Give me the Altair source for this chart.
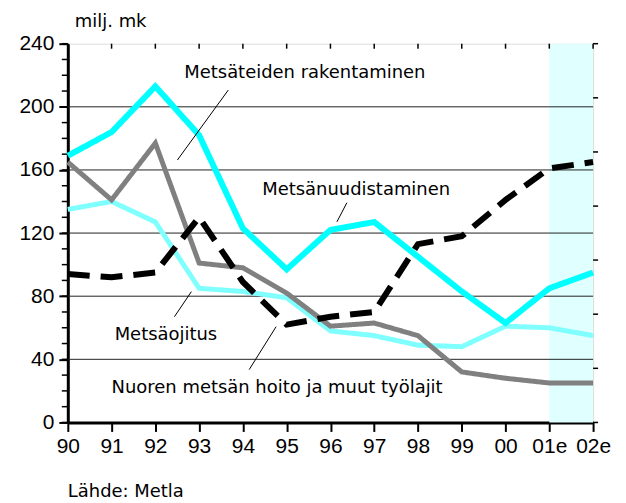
import json
import altair as alt
import pandas as pd

# ---- data ----
years = ["90", "91", "92", "93", "94", "95", "96", "97", "98", "99", "00", "01e", "02e"]
uudistaminen = [169, 184, 213, 182, 123, 97, 122, 127, 105, 83, 63, 85, 95]   # Metsänuudistaminen
tiet = [165, 141, 177, 101, 98, 82, 61, 63, 55, 32, 28, 25, 25]              # Metsäteiden rakentaminen
ojitus = [135, 140, 127, 85, 83, 79, 58, 55, 49, 48, 61, 60, 55]             # Metsäojitus
nuoren = [94, 92, 95, 130, 89, 62, 67, 70, 113, 118, 141, 161, 165]          # Nuoren metsän hoito ...

series_names = ["Metsäojitus", "Metsäteiden rakentaminen", "Metsänuudistaminen",
                "Nuoren metsän hoito ja muut työlajit"]
series_values = [ojitus, tiet, uudistaminen, nuoren]
series_colors = ["#80FFFF", "#808080", "#00FFFF", "#000000"]
series_widths = [5, 5, 6, 6]
series_dash = [[1, 0], [1, 0], [1, 0], [22, 11]]

grid_values = [40, 80, 120, 160, 200]
major_ticks = [0, 40, 80, 120, 160, 200, 240]
minor_ticks = list(range(0, 241, 10))
right_ticks = [0, 34.3, 68.6, 102.9, 137.1, 171.4, 205.7, 240]
forecast_start, forecast_end = 11, 12

label_texts = ["milj. mk", "Metsäteiden rakentaminen", "Metsänuudistaminen", "Metsäojitus",
               "Nuoren metsän hoito ja muut työlajit", "Lähde: Metla"]
label_x = [0.16, 2.66, 4.44, 1.07, 1.0, 0.0]
label_y = [254, 221.4, 147.4, 55.7, 22.1, -44.3]

pointer_x = [3.666, 6.375, 2.823, 4.759]
pointer_y = [210.6, 139.2, 82.9, 60.7]
pointer_x2 = [2.504, 6.148, 2.436, 4.144]
pointer_y2 = [166.3, 127.1, 67.0, 33.5]

# ---- chart ----
W, H = 527, 380
FONT = "Liberation Sans"
TFONT = "DejaVu Sans"
xscale = alt.Scale(domain=[0, 12], nice=False, zero=False)
yscale = alt.Scale(domain=[0, 240], nice=False, zero=False)
label_expr = json.dumps(years) + "[datum.value]"

shade_df = pd.DataFrame({"x0": [forecast_start], "x1": [forecast_end], "y0": [0], "y1": [240]})
shade = alt.Chart(shade_df).mark_rect(color="#E0FFFF").encode(
    x=alt.X("x0:Q", scale=xscale, axis=alt.Axis(
        values=list(range(13)), labelExpr=label_expr, title=None, grid=False,
        tickSize=9, tickWidth=2, tickColor="black", domainWidth=3, domainColor="black",
        labelFontSize=21, labelFont=FONT, labelColor="black", labelPadding=4,
        labelFlush=False, labelOverlap=False)),
    x2="x1:Q",
    y=alt.Y("y0:Q", scale=yscale, axis=alt.Axis(
        values=major_ticks, title=None, grid=False, tickSize=9, tickWidth=2,
        tickColor="black", domainWidth=3, domainColor="black", labelFontSize=21,
        labelFont=FONT, labelColor="black", labelPadding=5, labelFlush=False)),
    y2="y1:Q",
)

grid = alt.Chart(pd.DataFrame({"g": grid_values})).mark_rule(color="#222222", strokeWidth=1).encode(
    y=alt.Y("g:Q", scale=yscale), x=alt.value(0), x2=alt.value(W))

minor = alt.Chart(pd.DataFrame({"m": minor_ticks})).mark_rule(color="black", strokeWidth=1.5).encode(
    y=alt.Y("m:Q", scale=yscale), x=alt.value(-6), x2=alt.value(0))

right = alt.Chart(pd.DataFrame({"r": right_ticks})).mark_rule(color="black", strokeWidth=1.5).encode(
    y=alt.Y("r:Q", scale=yscale), x=alt.value(W), x2=alt.value(W + 5))

top = alt.Chart(pd.DataFrame({"t": list(range(13))})).mark_rule(color="black", strokeWidth=1.5).encode(
    x=alt.X("t:Q", scale=xscale), y=alt.value(0), y2=alt.value(5))

layers = [shade, grid, minor, right, top]
for name, vals, col, wdt, dash in zip(series_names, series_values, series_colors, series_widths, series_dash):
    df = pd.DataFrame({"x": list(range(len(years))), "v": vals})
    layers.append(alt.Chart(df).mark_line(color=col, strokeWidth=wdt, strokeDash=dash,
                                          strokeCap="butt", strokeJoin="miter").encode(
        x=alt.X("x:Q", scale=xscale), y=alt.Y("v:Q", scale=yscale)))

ptr_df = pd.DataFrame({"x": pointer_x, "y": pointer_y, "x2": pointer_x2, "y2": pointer_y2})
layers.append(alt.Chart(ptr_df).mark_rule(color="black", strokeWidth=1).encode(
    x=alt.X("x:Q", scale=xscale), y=alt.Y("y:Q", scale=yscale), x2="x2:Q", y2="y2:Q"))

txt_df = pd.DataFrame({"x": label_x, "y": label_y, "t": label_texts})
layers.append(alt.Chart(txt_df).mark_text(align="left", baseline="middle", fontSize=18,
                                          font=TFONT, color="black").encode(
    x=alt.X("x:Q", scale=xscale), y=alt.Y("y:Q", scale=yscale), text="t:N"))

chart = alt.layer(*layers).properties(
    width=W, height=H,
    autosize=alt.AutoSizeParams(type="none"),
    padding={"left": 60, "top": 35, "right": 25, "bottom": 80},
).configure_view(stroke="black", strokeWidth=2).configure(background="white")

chart.save("out.html", embed_options={"renderer": "svg", "actions": False})
